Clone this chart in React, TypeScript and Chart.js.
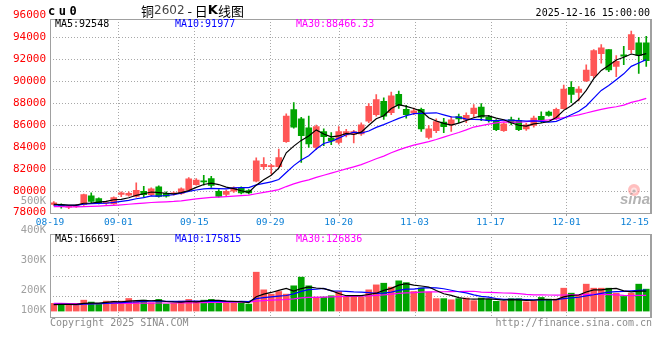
import React, { useEffect, useRef } from "react";
import { Chart, registerables } from "chart.js";

Chart.register(...registerables);

// ---------------- data ----------------
const dates = [
  "08-19", "08-20", "08-21", "08-22", "08-25", "08-26", "08-27", "08-28", "08-29",
  "09-01", "09-02", "09-03", "09-04", "09-05", "09-08", "09-09", "09-10", "09-11", "09-12",
  "09-15", "09-16", "09-17", "09-18", "09-19", "09-22", "09-23", "09-24", "09-25", "09-26",
  "09-29", "09-30", "10-09", "10-10", "10-13", "10-14", "10-15", "10-16", "10-17",
  "10-20", "10-21", "10-22", "10-23", "10-24", "10-27", "10-28", "10-29", "10-30", "10-31",
  "11-03", "11-04", "11-05", "11-06", "11-07", "11-10", "11-11", "11-12", "11-13", "11-14",
  "11-17", "11-18", "11-19", "11-20", "11-21", "11-24", "11-25", "11-26", "11-27", "11-28",
  "12-01", "12-02", "12-03", "12-04", "12-05", "12-08", "12-09", "12-10", "12-11", "12-12",
  "12-15", "12-16",
];

const opens = [
  78750, 78720, 78500, 78550, 78720, 79540, 79270, 78850, 78800,
  79650, 79600, 79480, 79950, 79640, 80350, 79750, 79700, 79750, 80040,
  80560, 80900, 81100, 79950, 79650, 79950, 80250, 80000, 80870, 82200,
  82200, 82200, 84470, 87400, 86560, 85730, 83950, 85400, 84800,
  84410, 85090, 85160, 85180, 86350, 86930, 88160, 87110, 88800, 87420,
  87090, 87420, 84870, 85480, 86260, 86000, 86770, 86470, 87030, 87640,
  86720, 86350, 85480, 86500, 86410, 85640, 85950, 86780, 87180, 86630,
  87490, 89430, 88960, 90010, 90500, 92500, 92870, 91340, 92390, 92870,
  93490, 93490,
];
const highs = [
  79000, 78800, 78650, 78750, 79700, 79800, 79350, 79050, 79450,
  79900, 79900, 80720, 80400, 80250, 80450, 79900, 79900, 80250, 81200,
  81100, 81400, 81300, 80100, 80050, 80350, 80350, 80100, 83000, 83030,
  82400, 83800, 87020, 88040, 86700, 86800, 86000, 85650, 85300,
  85850, 85600, 85500, 86200, 87950, 88780, 88470, 89000, 89100, 87780,
  87550, 87550, 85950, 86550, 86600, 86750, 87000, 87100, 87850, 87950,
  86870, 86500, 86200, 86720, 86620, 86150, 86800, 87200, 87270, 87550,
  89650, 89950, 89500, 91480, 92870, 93330, 92870, 92330, 93180, 94560,
  93990, 94090,
];
const lows = [
  78650, 78400, 78350, 78480, 78650, 78900, 78800, 78750, 78750,
  79450, 79500, 79400, 79400, 79550, 79400, 79400, 79600, 79650, 79950,
  80500, 80500, 80300, 79400, 79550, 79850, 79700, 79700, 80800, 81950,
  81500, 82100, 84400, 85700, 82570, 83950, 83740, 84100, 84200,
  84250, 84900, 84350, 85050, 86200, 86800, 86500, 86950, 87500, 86620,
  86930, 85400, 84720, 85300, 85300, 85400, 86200, 86200, 86720, 86400,
  86250, 85480, 85400, 86000, 85480, 85500, 85800, 86200, 86800, 86500,
  87450, 88030, 88200, 89950, 90320, 91640, 90860, 90400, 91500, 92560,
  90710, 91340,
];
const closes = [
  78900, 78530, 78550, 78650, 79640, 79020, 78900, 78950, 79360,
  79800, 79750, 80040, 79640, 80170, 79480, 79500, 79800, 80170, 81090,
  80960, 80800, 80470, 79480, 79950, 80260, 79800, 79800, 82720, 82410,
  82300, 83030, 86810, 85800, 85020, 84260, 85850, 84930, 84550,
  85390, 85390, 85390, 86010, 87700, 88320, 86810, 88660, 87790, 86930,
  87300, 85640, 85640, 86310, 85840, 86470, 86560, 86870, 87550, 86720,
  86410, 85580, 86100, 86190, 85580, 86010, 86630, 86470, 86870, 87420,
  89270, 88780, 89270, 91020, 92780, 93030, 91020, 91800, 92270, 94250,
  92350, 91860,
];
// volume, lots
const volumes = [
  65000, 65000, 50000, 50000, 92000, 76000, 65000, 84000, 84000,
  84000, 106000, 84000, 92000, 70000, 98000, 59000, 65000, 84000, 98000,
  84000, 92000, 98000, 78000, 70000, 70000, 76000, 59000, 328000, 179000,
  143000, 165000, 143000, 213000, 286000, 213000, 118000, 118000, 129000,
  165000, 118000, 118000, 118000, 179000, 221000, 235000, 202000, 255000, 240000,
  165000, 195000, 160000, 105000, 105000, 95000, 105000, 110000, 88000, 110000,
  100000, 82000, 82000, 105000, 105000, 78000, 86000, 115000, 101000, 101000,
  193000, 151000, 132000, 227000, 193000, 193000, 193000, 151000, 123000, 151000,
  227000, 185000,
];
// closes / volumes of the 29 sessions before 08-19 (only feed the moving averages)
const priorCloses = [
  78900, 79100, 78800, 78500, 78300, 78200, 78100, 78250, 78400, 78300,
  78200, 78350, 78500, 78450, 78600, 78700, 78500, 78400, 78550, 78600,
  78500, 78650, 78700, 78600, 78550, 78700, 78800, 78650, 78750,
];
const priorVolumes = [
  80000, 75000, 85000, 70000, 72000, 68000, 75000, 70000, 78000, 66000,
  72000, 60000, 65000, 70000, 62000, 68000, 74000, 58000, 66000, 60000,
  56000, 62000, 58000, 54000, 60000, 52000, 48000, 55000, 50000,
];

const priceGridTicks = [80000, 82000, 84000, 86000, 88000, 90000, 92000, 94000];
const priceAxisLabels = [96000, 94000, 92000, 90000, 88000, 86000, 84000, 82000, 80000, 78000];
const volumeGridTicks = [125000, 300000, 475000];
const volumeAxisLabels = ["500K", "400K", "300K", "200K", "100K"];
const dateLabelIdx = [0, 9, 19, 29, 38, 48, 58, 68, 78];
const dateGridIdx = [9, 19, 29, 38, 48, 58, 68];
const priceLegend = ["MA5:92548", "MA10:91977", "MA30:88466.33"];
const volumeLegend = ["MA5:166691", "MA10:175815", "MA30:126836"];
const titleCode = "cu0";
const titleName = ["铜", "2602", " - 日", "K", "线图"];
const timeStamp = "2025-12-16 15:00:00";

// ---------------- styles ----------------
const UP = "#ff5656";
const DOWN = "#00a400";
const MA_COLORS = ["#000000", "#0000ff", "#ff00ff"];
const GRID = "#a8a8a8";
const FRAME = "#a0a0a0";
const MONO = '"DejaVu Sans Mono", "Liberation Mono", monospace';

function movingAverage(values: number[], prior: number[], n: number) {
  const all = prior.concat(values);
  return values.map((_, i) => {
    const end = prior.length + i + 1;
    const s = all.slice(Math.max(0, end - n), end);
    return s.reduce((a, b) => a + b, 0) / s.length;
  });
}

const candleColors = closes.map((c, i) => (c >= opens[i] ? UP : DOWN));

function px(v: number) {
  return Math.round(v) + 0.5;
}

function dottedLine(ctx: CanvasRenderingContext2D, x1: number, y1: number, x2: number, y2: number) {
  ctx.save();
  ctx.strokeStyle = GRID;
  ctx.lineWidth = 1;
  ctx.setLineDash([1, 2]);
  ctx.beginPath();
  ctx.moveTo(x1, y1);
  ctx.lineTo(x2, y2);
  ctx.stroke();
  ctx.restore();
}

function drawFrame(ctx: CanvasRenderingContext2D, l: number, t: number, r: number, b: number) {
  ctx.save();
  ctx.strokeStyle = FRAME;
  ctx.lineWidth = 1;
  ctx.strokeRect(px(l), px(t), Math.round(r) - Math.round(l), Math.round(b) - Math.round(t));
  ctx.lineWidth = 2;
  ctx.beginPath();
  ctx.moveTo(Math.round(r) + 1, Math.round(t));
  ctx.lineTo(Math.round(r) + 1, Math.round(b) + 1);
  ctx.stroke();
  ctx.restore();
}

function legendRow(ctx: CanvasRenderingContext2D, texts: string[], y: number) {
  const xs = [55, 175, 296];
  ctx.save();
  ctx.font = `10px ${MONO}`;
  ctx.textBaseline = "middle";
  ctx.textAlign = "left";
  texts.forEach((t, i) => {
    ctx.fillStyle = MA_COLORS[i];
    ctx.fillText(t, xs[i], y);
  });
  ctx.restore();
}

function maDatasets(arrs: number[][]) {
  return arrs.map((d, i) => ({
    type: "line" as const,
    label: ["MA5", "MA10", "MA30"][i],
    data: d,
    borderColor: MA_COLORS[i],
    borderWidth: 1.2,
    pointRadius: 0,
    tension: 0,
    order: 0,
    xAxisID: "x",
    yAxisID: "y",
  }));
}

const FRAME_TOP = 19;

const pricePanel = {
  id: "pricePanel",
  beforeDatasetsDraw(chart: any) {
    const { ctx, chartArea } = chart;
    const y = chart.scales.y;
    const xg = chart.scales.xg;
    priceGridTicks.forEach((v) => {
      const yy = px(y.getPixelForValue(v));
      dottedLine(ctx, chartArea.left, yy, chartArea.right, yy);
    });
    dateGridIdx.forEach((i) => {
      const xx = px(xg.getPixelForValue(i));
      dottedLine(ctx, xx, FRAME_TOP, xx, chartArea.bottom);
    });
    // sina watermark
    ctx.save();
    ctx.globalAlpha = 0.55;
    ctx.fillStyle = "#ff8a8a";
    ctx.beginPath();
    ctx.arc(634, 190, 6, 0, Math.PI * 2);
    ctx.fill();
    ctx.fillStyle = "#ffffff";
    ctx.beginPath();
    ctx.arc(634, 190.5, 3, 0, Math.PI * 2);
    ctx.fill();
    ctx.fillStyle = "#8a8a8a";
    ctx.beginPath();
    ctx.arc(634, 191, 1.6, 0, Math.PI * 2);
    ctx.fill();
    ctx.globalAlpha = 0.75;
    ctx.fillStyle = "#9a9a9a";
    ctx.font = 'italic bold 15px "Liberation Sans", Arial, sans-serif';
    ctx.textAlign = "right";
    ctx.textBaseline = "alphabetic";
    ctx.fillText("sina", 650, 204);
    ctx.restore();
  },
  afterDatasetsDraw(chart: any) {
    const { ctx, chartArea } = chart;
    const xg = chart.scales.xg;
    drawFrame(ctx, chartArea.left, FRAME_TOP, chartArea.right, chartArea.bottom);
    ctx.save();
    ctx.strokeStyle = FRAME;
    ctx.lineWidth = 1;
    dateGridIdx.forEach((i) => {
      const xx = px(xg.getPixelForValue(i));
      ctx.beginPath();
      ctx.moveTo(xx, Math.round(chartArea.bottom));
      ctx.lineTo(xx, Math.round(chartArea.bottom) + 3);
      ctx.stroke();
    });
    ctx.restore();
  },
  afterDraw(chart: any) {
    const { ctx, chartArea } = chart;
    const y = chart.scales.y;
    const xg = chart.scales.xg;
    ctx.save();
    // price axis labels
    ctx.font = `11px ${MONO}`;
    ctx.fillStyle = "#ff0000";
    ctx.textAlign = "right";
    ctx.textBaseline = "middle";
    priceAxisLabels.forEach((v) => {
      ctx.fillText(String(v), 46, y.getPixelForValue(v));
    });
    // date labels
    ctx.font = `9.5px ${MONO}`;
    ctx.fillStyle = "#0a7fd6";
    ctx.textAlign = "center";
    dateLabelIdx.forEach((i) => {
      const t = dates[i];
      const w = ctx.measureText(t).width;
      let cx = xg.getPixelForValue(i);
      if (cx + w / 2 > chartArea.right - 1) cx = chartArea.right - 1 - w / 2;
      ctx.fillText(t, cx, chartArea.bottom + 9.5);
    });
    // title
    ctx.fillStyle = "#000";
    ctx.textAlign = "left";
    ctx.font = `bold 12px ${MONO}`;
    (ctx as any).letterSpacing = "3.5px";
    ctx.fillText(titleCode, 48, 12);
    (ctx as any).letterSpacing = "0px";
    let tx = 141;
    const fonts = [
      '13px "Noto Sans CJK SC", sans-serif',
      '12px "DejaVu Sans", sans-serif',
      '13px "Noto Sans CJK SC", sans-serif',
      'bold 13px "DejaVu Sans", sans-serif',
      '13px "Noto Sans CJK SC", sans-serif',
    ];
    titleName.forEach((t, i) => {
      ctx.font = fonts[i];
      ctx.fillStyle = i === 1 ? "#444" : "#000";
      ctx.fillText(t, tx, 11);
      tx += ctx.measureText(t).width;
    });
    ctx.font = `10px ${MONO}`;
    ctx.textAlign = "right";
    ctx.fillStyle = "#000";
    ctx.fillText(timeStamp, 650, 13.5);
    ctx.restore();
    legendRow(ctx, priceLegend, 24);
  },
};

const VOL_TOP_OFFSET = 195;

const volumePanel = {
  id: "volumePanel",
  beforeDatasetsDraw(chart: any) {
    const { ctx, chartArea } = chart;
    const y = chart.scales.y;
    const xg = chart.scales.xg;
    volumeGridTicks.forEach((v) => {
      const yy = px(y.getPixelForValue(v));
      dottedLine(ctx, chartArea.left, yy, chartArea.right, yy);
    });
    dateGridIdx.forEach((i) => {
      const xx = px(xg.getPixelForValue(i));
      dottedLine(ctx, xx, chartArea.top, xx, chartArea.bottom);
    });
  },
  afterDatasetsDraw(chart: any) {
    const { ctx, chartArea } = chart;
    drawFrame(ctx, chartArea.left, chartArea.top, chartArea.right, chartArea.bottom);
  },
  afterDraw(chart: any) {
    const { ctx, chartArea } = chart;
    ctx.save();
    ctx.font = `10.5px ${MONO}`;
    ctx.fillStyle = "#a0a0a0";
    ctx.textAlign = "right";
    ctx.textBaseline = "middle";
    const labelY = [201, 230, 260.5, 290, 310];
    volumeAxisLabels.forEach((t, i) => {
      ctx.fillText(t, 46, labelY[i] - VOL_TOP_OFFSET);
    });
    ctx.font = `10px ${MONO}`;
    ctx.fillStyle = "#8c8c8c";
    ctx.textAlign = "left";
    ctx.fillText("Copyright 2025 SINA.COM", 50, chartArea.bottom + 6.5);
    ctx.textAlign = "right";
    ctx.fillText("http://finance.sina.com.cn", 652, chartArea.bottom + 6.5);
    ctx.restore();
    legendRow(ctx, volumeLegend, 239 - VOL_TOP_OFFSET);
  },
};

function baseScales(yMin: number, yMax: number) {
  return {
    x: { type: "category" as const, labels: dates, offset: true, display: false },
    xg: {
      type: "category" as const,
      labels: dates,
      offset: false,
      display: false,
      min: dates[0],
      max: dates[dates.length - 1],
    },
    y: { type: "linear" as const, min: yMin, max: yMax, display: false },
  };
}

export default function App() {
  const priceRef = useRef<HTMLCanvasElement>(null);
  const volRef = useRef<HTMLCanvasElement>(null);

  useEffect(() => {
    const ma5 = movingAverage(closes, priorCloses, 5);
    const ma10 = movingAverage(closes, priorCloses, 10);
    const ma30 = movingAverage(closes, priorCloses, 30);
    const vma5 = movingAverage(volumes, priorVolumes, 5);
    const vma10 = movingAverage(volumes, priorVolumes, 10);
    const vma30 = movingAverage(volumes, priorVolumes, 30);

    const price = new Chart(priceRef.current!, {
      type: "bar",
      data: {
        labels: dates,
        datasets: [
          ...maDatasets([ma5, ma10, ma30]),
          {
            type: "bar",
            label: "wick",
            data: lows.map((l, i) => [l, highs[i]]),
            backgroundColor: candleColors,
            barThickness: 1,
            grouped: false,
            order: 2,
            xAxisID: "x",
            yAxisID: "y",
          },
          {
            type: "bar",
            label: "body",
            data: opens.map((o, i) => [o, closes[i]]),
            backgroundColor: candleColors,
            barThickness: 6,
            minBarLength: 1,
            grouped: false,
            order: 1,
            xAxisID: "x",
            yAxisID: "y",
          },
        ] as any,
      },
      options: {
        responsive: false,
        animation: false,
        events: [],
        layout: { padding: { left: 50, right: 10, top: 15.4, bottom: 232 - 212.6 } },
        plugins: { legend: { display: false }, tooltip: { enabled: false }, title: { display: false } },
        scales: baseScales(78000, 96000) as any,
      },
      plugins: [pricePanel],
    });

    const vol = new Chart(volRef.current!, {
      type: "bar",
      data: {
        labels: dates,
        datasets: [
          ...maDatasets([vma5, vma10, vma30]),
          {
            type: "bar",
            label: "volume",
            data: volumes,
            backgroundColor: candleColors,
            barThickness: 6,
            grouped: false,
            order: 1,
            xAxisID: "x",
            yAxisID: "y",
          },
        ] as any,
      },
      options: {
        responsive: false,
        animation: false,
        events: [],
        layout: { padding: { left: 50, right: 10, top: 234 - VOL_TOP_OFFSET, bottom: 165 - (317 - VOL_TOP_OFFSET) } },
        plugins: { legend: { display: false }, tooltip: { enabled: false }, title: { display: false } },
        scales: baseScales(-50000, 650000) as any,
      },
      plugins: [volumePanel],
    });

    return () => {
      price.destroy();
      vol.destroy();
    };
  }, []);

  return (
    <div style={{ position: "fixed", left: 0, top: 0, width: 660, height: 360, background: "#fff" }}>
      <canvas ref={priceRef} width={660} height={232} style={{ position: "absolute", left: 0, top: 0 }} />
      <canvas
        ref={volRef}
        width={660}
        height={165}
        style={{ position: "absolute", left: 0, top: VOL_TOP_OFFSET }}
      />
    </div>
  );
}
